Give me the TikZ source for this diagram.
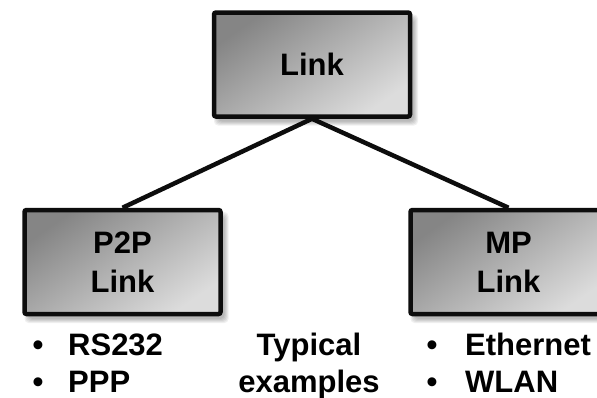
\documentclass[tikz,border=0pt]{standalone}
\usepackage{fontspec}
\setmainfont{Liberation Sans}
\usetikzlibrary{calc}
\definecolor{gdark}{HTML}{858585}
\definecolor{glight}{HTML}{DCDCDC}
\tikzset{
  box/.style={draw=black!95, line width=4.5pt, rounded corners=2pt,
    minimum width=196pt, minimum height=104pt, inner sep=0pt,
    top color=gdark, bottom color=glight, shading angle=35,
    align=center, font=\fontsize{31}{39}\selectfont\bfseries},
  lbl/.style={inner sep=0pt, font=\fontsize{31}{38}\selectfont\bfseries},
  conn/.style={line width=4.5pt, black!95},
}
\newcommand{\softshadow}[4]{% cx cy w h
  \foreach \k in {0,...,5}{
    \fill[black, opacity=0.07, rounded corners=3pt]
      ($(#1+4-#3/2-\k*0.8+4,#2-#4/2-\k*0.8+5)$) rectangle ($(#1+#3/2+\k*0.8,#2+#4/2+\k*0.8+2)$);
  }
}
\begin{document}
\begin{tikzpicture}[x=1pt,y=-1pt]
\useasboundingbox (0,0) rectangle (597,397);
\fill[white] (0,0) rectangle (597,397);
% shadows
\foreach \cx/\cy in {312/64.5, 122.5/262, 508.5/262}{
  \foreach \k in {0,...,4}{
    \fill[black, opacity=0.06, rounded corners=4pt]
      (\cx-98+4-\k, \cy-52+6-\k) rectangle (\cx+98+4+\k, \cy+52+5+\k);
  }
}
\node[box] (top) at (312,64.5) {Link};
\node[box] (p2p) at (122.5,262) {P2P\\Link};
\node[box] (mp) at (508.5,262) {MP\\Link};
\draw[conn] (top.south) -- (p2p.north);
\draw[conn] (top.south) -- (mp.north);
% bullets
\node[lbl, anchor=base] (b1) at (38,355) {•};
\node[lbl, anchor=base west] (t1) at (68,355) {RS232};
\node[lbl, anchor=base] (b2) at (38,392) {•};
\node[lbl, anchor=base west] (t2) at (68,392) {PPP};
\node[lbl, anchor=base] (ty) at (309,355) {Typical};
\node[lbl, anchor=base] (ex) at (309,392) {examples};
\node[lbl, anchor=base] (b3) at (432,355) {•};
\node[lbl, anchor=base west] (t3) at (465,355) {Ethernet};
\node[lbl, anchor=base] (b4) at (432,392) {•};
\node[lbl, anchor=base west] (t4) at (465,392) {WLAN};
\end{tikzpicture}
\end{document}
